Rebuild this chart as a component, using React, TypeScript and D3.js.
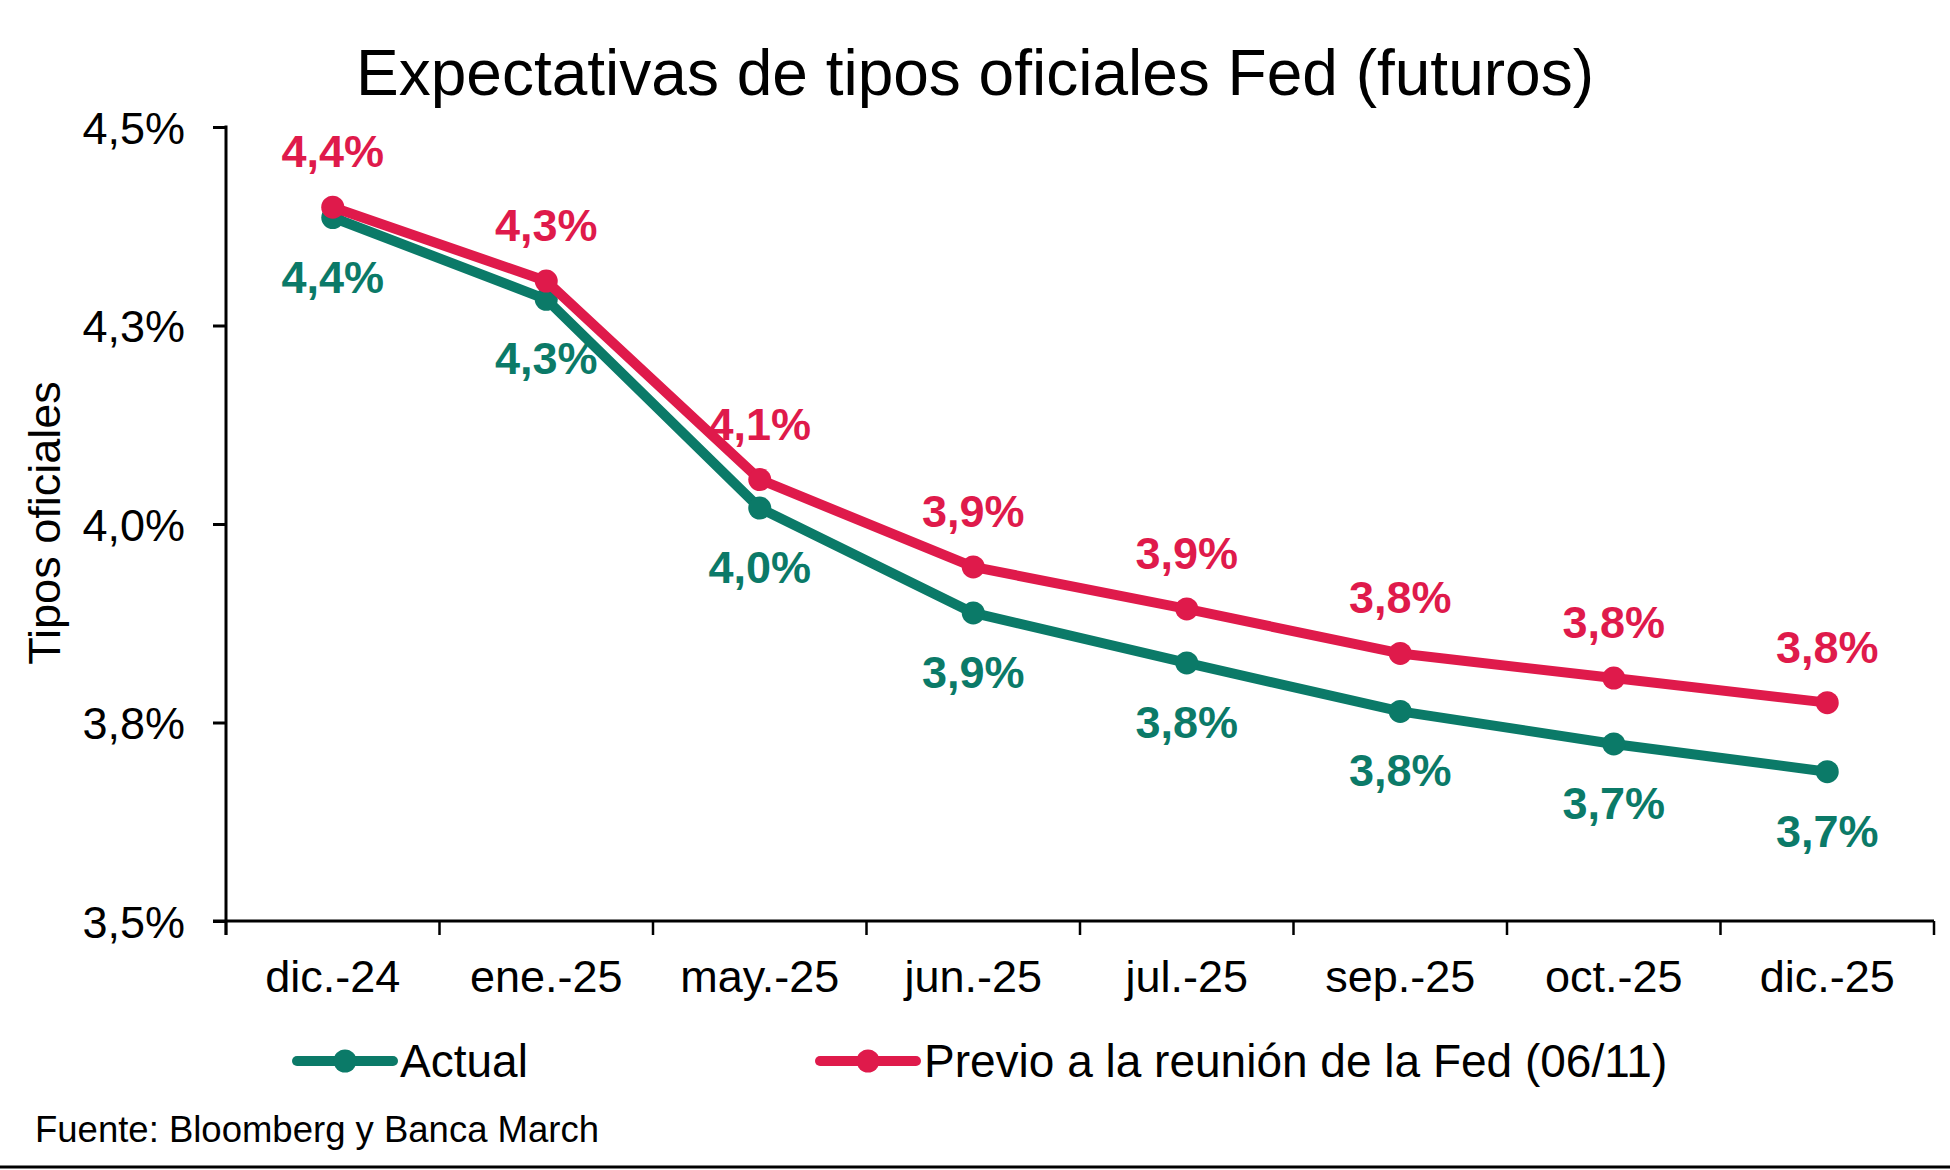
import React, { useEffect, useRef } from "react";
import * as d3 from "d3";

const categories = ["dic.-24", "ene.-25", "may.-25", "jun.-25", "jul.-25", "sep.-25", "oct.-25", "dic.-25"];
const actual = [4.386, 4.283, 4.02, 3.888, 3.825, 3.764, 3.723, 3.688];
const previo = [4.399, 4.306, 4.056, 3.946, 3.893, 3.837, 3.806, 3.775];
const yTicks = [3.5, 3.75, 4.0, 4.25, 4.5];
const yTickLabels = ["3,5%", "3,8%", "4,0%", "4,3%", "4,5%"];
const seriesNames = ["Actual", "Previo a la reunión de la Fed (06/11)"];
const title = "Expectativas de tipos oficiales Fed (futuros)";
const yTitle = "Tipos oficiales";
const source = "Fuente: Bloomberg y Banca March";

const W = 1950;
const H = 1170;
const GREEN = "#0b7a68";
const RED = "#df1a4b";
const FONT = "Arial, 'Liberation Sans', sans-serif";

export default function App() {
  const ref = useRef<SVGSVGElement | null>(null);

  useEffect(() => {
    const svg = d3.select(ref.current);
    svg.selectAll("*").remove();

    const x0 = 226, x1 = 1934, yTop = 127, yBot = 921;
    const x = d3.scaleBand<string>().domain(categories).range([x0, x1]).padding(0);
    const y = d3.scaleLinear().domain([3.5, 4.5]).range([yBot, yTop]);
    const cx = (c: string) => (x(c) as number) + x.bandwidth() / 2;

    svg.append("rect").attr("width", W).attr("height", H).attr("fill", "#fff");

    // title
    svg.append("text").attr("x", 975).attr("y", 95).attr("text-anchor", "middle")
      .attr("font-family", FONT).attr("font-size", 64).attr("fill", "#000").text(title);

    // y axis
    const yAxis = d3.axisLeft(y).tickValues(yTicks)
      .tickFormat((d, i) => yTickLabels[i]).tickSize(13).tickPadding(28).tickSizeOuter(0);
    const gy = svg.append("g").attr("transform", `translate(${x0},0)`).call(yAxis as any);
    gy.select(".domain").remove();
    gy.selectAll(".tick line").attr("stroke", "#000").attr("stroke-width", 3);
    gy.selectAll(".tick text").attr("font-family", FONT).attr("font-size", 45).attr("fill", "#000").attr("dy", "0.36em");
    svg.append("line").attr("x1", x0).attr("x2", x0).attr("y1", yTop - 1.5).attr("y2", yBot + 14)
      .attr("stroke", "#000").attr("stroke-width", 3);

    // x axis
    const gx = svg.append("g").attr("transform", `translate(0,${yBot})`);
    gx.append("line").attr("x1", x0 - 13).attr("x2", x1).attr("y1", 0).attr("y2", 0)
      .attr("stroke", "#000").attr("stroke-width", 3);
    const boundaries = categories.map((c) => x(c) as number).concat([x1]);
    gx.selectAll("line.tk").data(boundaries).enter().append("line").attr("class", "tk")
      .attr("x1", (d) => d).attr("x2", (d) => d).attr("y1", 0).attr("y2", 14)
      .attr("stroke", "#000").attr("stroke-width", 2.5);
    gx.selectAll("text").data(categories).enter().append("text")
      .attr("x", (d) => cx(d)).attr("y", 71).attr("text-anchor", "middle")
      .attr("font-family", FONT).attr("font-size", 45).attr("fill", "#000").text((d) => d);

    // y title
    svg.append("text").attr("transform", `translate(60,523) rotate(-90)`).attr("text-anchor", "middle")
      .attr("font-family", FONT).attr("font-size", 45).attr("fill", "#000").text(yTitle);

    const line = d3.line<number>().x((d, i) => cx(categories[i])).y((d) => y(d));
    const fmt = (v: number) => v.toFixed(1).replace(".", ",") + "%";

    const drawSeries = (vals: number[], color: string) => {
      svg.append("path").attr("d", line(vals) as string).attr("fill", "none")
        .attr("stroke", color).attr("stroke-width", 10).attr("stroke-linejoin", "round").attr("stroke-linecap", "round");
      svg.append("g").selectAll("circle").data(vals).enter().append("circle")
        .attr("cx", (d, i) => cx(categories[i])).attr("cy", (d) => y(d)).attr("r", 11.5).attr("fill", color);
    };
    const drawLabels = (vals: number[], color: string, above: boolean) => {
      svg.append("g").selectAll("text").data(vals).enter().append("text")
        .attr("x", (d, i) => cx(categories[i])).attr("y", (d) => y(d) + (above ? -40 : 75))
        .attr("text-anchor", "middle").attr("font-family", FONT).attr("font-weight", "bold")
        .attr("font-size", 45).attr("fill", color).text((d) => fmt(d));
    };
    drawSeries(actual, GREEN);
    drawSeries(previo, RED);
    drawLabels(actual, GREEN, false);
    drawLabels(previo, RED, true);

    // legend
    const legend = [
      { name: seriesNames[0], color: GREEN, lx: 297, tx: 400 },
      { name: seriesNames[1], color: RED, lx: 820, tx: 924 },
    ];
    legend.forEach((l) => {
      const g = svg.append("g");
      g.append("line").attr("x1", l.lx).attr("x2", l.lx + 96).attr("y1", 1061).attr("y2", 1061)
        .attr("stroke", l.color).attr("stroke-width", 10).attr("stroke-linecap", "round");
      g.append("circle").attr("cx", l.lx + 48).attr("cy", 1061).attr("r", 11.5).attr("fill", l.color);
      g.append("text").attr("x", l.tx).attr("y", 1077).attr("font-family", FONT).attr("font-size", 46)
        .attr("fill", "#000").text(l.name);
    });

    // source
    svg.append("text").attr("x", 35).attr("y", 1142).attr("font-family", FONT).attr("font-size", 36.5)
      .attr("fill", "#000").text(source);
    svg.append("line").attr("x1", 0).attr("x2", W).attr("y1", 1167).attr("y2", 1167)
      .attr("stroke", "#000").attr("stroke-width", 3);
  }, []);

  return (
    <svg ref={ref} width={W} height={H} style={{ position: "absolute", left: 0, top: 0, display: "block" }} />
  );
}
